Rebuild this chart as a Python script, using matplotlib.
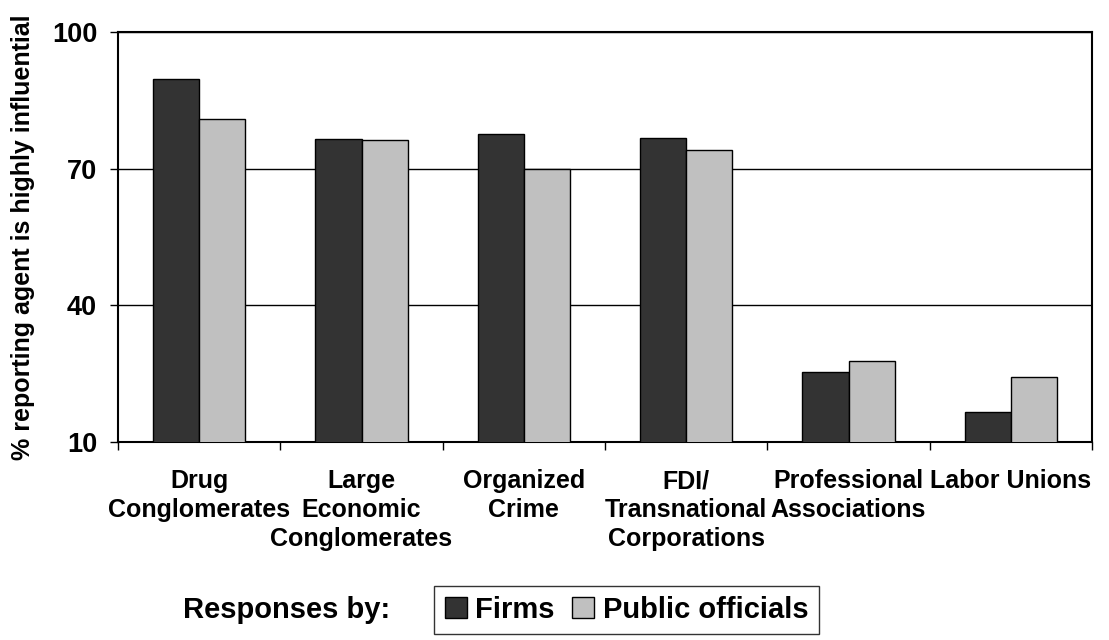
import numpy as np
import matplotlib.pyplot as plt

plt.rcParams['font.family'] = ['Liberation Sans', 'DejaVu Sans']
plt.rcParams['font.weight'] = 'bold'

categories = ['Drug\nConglomerates', 'Large\nEconomic\nConglomerates', 'Organized\nCrime',
              'FDI/\nTransnational\nCorporations', 'Professional\nAssociations', 'Labor Unions']
firms = [89.7, 76.5, 77.6, 76.7, 25.3, 16.5]
officials = [80.8, 76.2, 69.9, 74.0, 27.8, 24.3]
yticks = [10, 40, 70, 100]

fig = plt.figure(figsize=(11.09, 6.4), dpi=100)
ax = fig.add_axes([0.1064, 0.31, 0.8783, 0.64])

x = np.arange(len(categories))
w = 0.285
ax.bar(x - w/2, firms, w, color='#333333', edgecolor='black', linewidth=1, label='Firms', zorder=3)
ax.bar(x + w/2, officials, w, color='#c0c0c0', edgecolor='black', linewidth=1, label='Public officials', zorder=3)

ax.set_xlim(-0.5, len(categories) - 0.5)
ax.set_ylim(10, 100)
ax.set_yticks(yticks)
ax.set_yticklabels([str(v) for v in yticks], fontsize=19.5, fontweight='bold')
ax.yaxis.grid(True, color='black', linewidth=1, zorder=0)
ax.tick_params(axis='y', length=6, width=1, direction='out', pad=9)

ax.set_xticks(x)
ax.set_xticklabels(categories, fontsize=18, fontweight='bold', linespacing=1.25)
ax.tick_params(axis='x', which='major', length=0, pad=20)
ax.set_xticks(np.arange(-0.5, len(categories)), minor=True)
ax.tick_params(axis='x', which='minor', length=6, width=1, direction='out')

for s in ax.spines.values():
    s.set_linewidth(1.5)
    s.set_color('black')

ax.set_ylabel('% reporting agent is highly influential', fontsize=18, fontweight='bold', labelpad=12)

fig.text(0.258, 0.047, 'Responses by:', fontsize=21, fontweight='bold', ha='center', va='center')
leg = fig.legend(loc='center', bbox_to_anchor=(0.565, 0.047), ncol=2, fontsize=21, frameon=True,
                 fancybox=False, edgecolor='black', handlelength=0.75, handleheight=0.75,
                 handletextpad=0.3, columnspacing=0.6, borderpad=0.35, borderaxespad=0)
leg.get_frame().set_linewidth(1)
for t in leg.get_texts():
    t.set_fontweight('bold')

fig.savefig('out.png', dpi=100)
